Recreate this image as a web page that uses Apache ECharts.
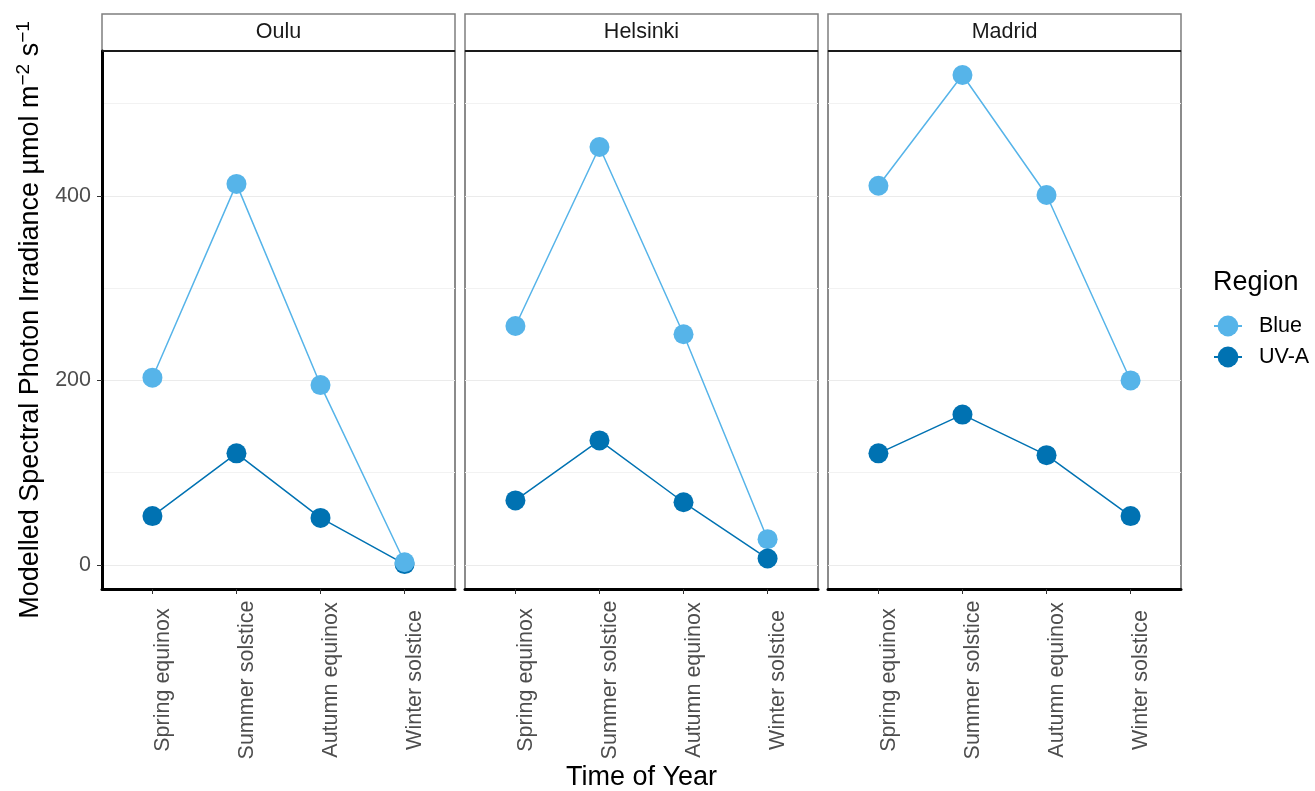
<!DOCTYPE html>
<html lang="en">
<head>
  <meta charset="UTF-8">
  <title>Modelled Spectral Photon Irradiance</title>
  <script type="text/javascript" src="https://cdn.jsdelivr.net/npm/echarts@6/dist/echarts.min.js"></script>
  <style type="text/css">
    * { margin: 0; padding: 0; }
    html, body { width: 100%; height: 100%; background-color: #fff; }
    #chart { width: 1315px; height: 791px; }
  </style>
</head>
<body>
<div id="chart"></div>
<script type="text/javascript">
  // categories / facets
  var categories = ['Spring equinox', 'Summer solstice', 'Autumn equinox', 'Winter solstice'];
  var locations = ['Oulu', 'Helsinki', 'Madrid'];

  // values
  var blueOulu = [203, 413, 195, 3];
  var uvaOulu = [53, 121, 51, 1];
  var blueHelsinki = [259, 453, 250, 28];
  var uvaHelsinki = [70, 135, 68, 7];
  var blueMadrid = [411, 531, 401, 200];
  var uvaMadrid = [121, 163, 119, 53];

  var yMajor = [0, 200, 400];
  var yMinor = [100, 300, 500];

  var blueByLoc = [blueOulu, blueHelsinki, blueMadrid];
  var uvaByLoc = [uvaOulu, uvaHelsinki, uvaMadrid];

  var colBlue = '#56B4E9';
  var colUva = '#0072B2';
  var font = 'Liberation Sans, Arial, sans-serif';

  var panelLeft = [102, 465, 828];
  var panelW = 353;
  var panelTop = 51;
  var panelH = 538;
  var catIdx = categories.map(function (c, i) { return i; });

  function pairs(vals) {
    return categories.map(function (c, i) { return [i, vals[i]]; });
  }

  var grids = [], xAxes = [], yAxes = [], series = [], graphics = [];

  locations.forEach(function (loc, k) {
    grids.push({
      left: panelLeft[k], top: panelTop, width: panelW, height: panelH,
      show: true, borderColor: '#666', borderWidth: 1.5, backgroundColor: '#fff'
    });
    xAxes.push({
      type: 'value', gridIndex: k, min: -0.6, max: 3.6,
      axisLine: { show: true, onZero: false, lineStyle: { color: '#000', width: 3 } },
      axisTick: { show: true, length: 5, customValues: catIdx, lineStyle: { color: '#333', width: 1 } },
      axisLabel: {
        customValues: catIdx, rotate: 90, margin: 91,
        align: 'center', verticalAlign: 'top',
        color: '#4D4D4D', fontSize: 21.5, fontFamily: font,
        formatter: function (v) { return categories[Math.round(v)]; }
      },
      splitLine: { show: false }
    });
    // main y axis (major grid lines, ticks, labels)
    yAxes.push({
      type: 'value', gridIndex: k, min: -26, max: 557,
      axisLine: { show: k === 0, onZero: false, lineStyle: { color: '#000', width: 3 } },
      axisTick: { show: k === 0, length: 5, customValues: yMajor, lineStyle: { color: '#333' } },
      axisLabel: { show: k === 0, customValues: yMajor, color: '#4D4D4D', fontSize: 21.5, fontFamily: font, margin: 11 },
      splitLine: { show: true, lineStyle: { color: '#EBEBEB', width: 1.2 } },
      name: k === 0 ? '{m|Modelled Spectral Photon Irradiance µmol m}{s|−2}{m| s}{s|−1}' : '',
      nameLocation: 'middle',
      nameGap: 58,
      nameTextStyle: {
        rich: {
          m: { fontSize: 27, fontFamily: font, color: '#000', lineHeight: 30, padding: [12, 0, 0, 0], verticalAlign: 'bottom' },
          s: { fontSize: 19, fontFamily: font, color: '#000', lineHeight: 20, verticalAlign: 'top' }
        }
      }
    });
    // helper y axis only for minor grid lines
    yAxes.push({
      type: 'value', gridIndex: k, min: -26, max: 557,
      axisLine: { show: false }, axisLabel: { show: false },
      axisTick: { show: false, customValues: yMinor },
      splitLine: { show: true, lineStyle: { color: '#F2F2F2', width: 1 } }
    });

    var uvaS = {
      name: 'UV-A', type: 'line', xAxisIndex: k, yAxisIndex: 2 * k,
      data: pairs(uvaByLoc[k]), symbol: 'circle', symbolSize: 20,
      itemStyle: { color: colUva }, lineStyle: { color: colUva, width: 1.5 }, z: 3
    };
    var blueS = {
      name: 'Blue', type: 'line', xAxisIndex: k, yAxisIndex: 2 * k,
      data: pairs(blueByLoc[k]), symbol: 'circle', symbolSize: 20,
      itemStyle: { color: colBlue }, lineStyle: { color: colBlue, width: 1.5 }, z: k === 0 ? 4 : 2
    };
    series.push(blueS, uvaS);

    // facet strip
    graphics.push({
      type: 'rect', shape: { x: panelLeft[k], y: 14, width: panelW, height: panelTop - 14 },
      style: { fill: '#fff', stroke: '#7F7F7F', lineWidth: 1.5 }
    });
    graphics.push({
      type: 'line', shape: { x1: panelLeft[k], y1: panelTop, x2: panelLeft[k] + panelW, y2: panelTop },
      style: { stroke: '#1A1A1A', lineWidth: 2 }, z: 10
    });
    graphics.push({
      type: 'text', x: panelLeft[k] + panelW / 2, y: (14 + panelTop) / 2,
      style: { text: loc, fill: '#1A1A1A', fontSize: 21.5, fontFamily: font, align: 'center', verticalAlign: 'middle' }
    });
  });

  graphics.push({
    type: 'text', x: (panelLeft[0] + panelLeft[2] + panelW) / 2, y: 778,
    style: { text: 'Time of Year', fill: '#000', fontSize: 27, fontFamily: font, align: 'center', verticalAlign: 'middle' }
  });
  graphics.push({
    type: 'text', x: 1213, y: 283,
    style: { text: 'Region', fill: '#000', fontSize: 27, fontFamily: font, align: 'left', verticalAlign: 'middle' }
  });

  var myChart = echarts.init(document.getElementById('chart'));
  var option = {
    backgroundColor: '#fff',
    animation: false,
    grid: grids,
    xAxis: xAxes,
    yAxis: yAxes,
    legend: {
      data: ['Blue', 'UV-A'],
      orient: 'vertical',
      left: 1208, top: 310,
      itemWidth: 28, itemHeight: 26, itemGap: 9,
      textStyle: { color: '#000', fontSize: 21.5, fontFamily: font, padding: [0, 0, 0, 12] }
    },
    graphic: graphics,
    series: series
  };
  myChart.setOption(option);
</script>
</body>
</html>
